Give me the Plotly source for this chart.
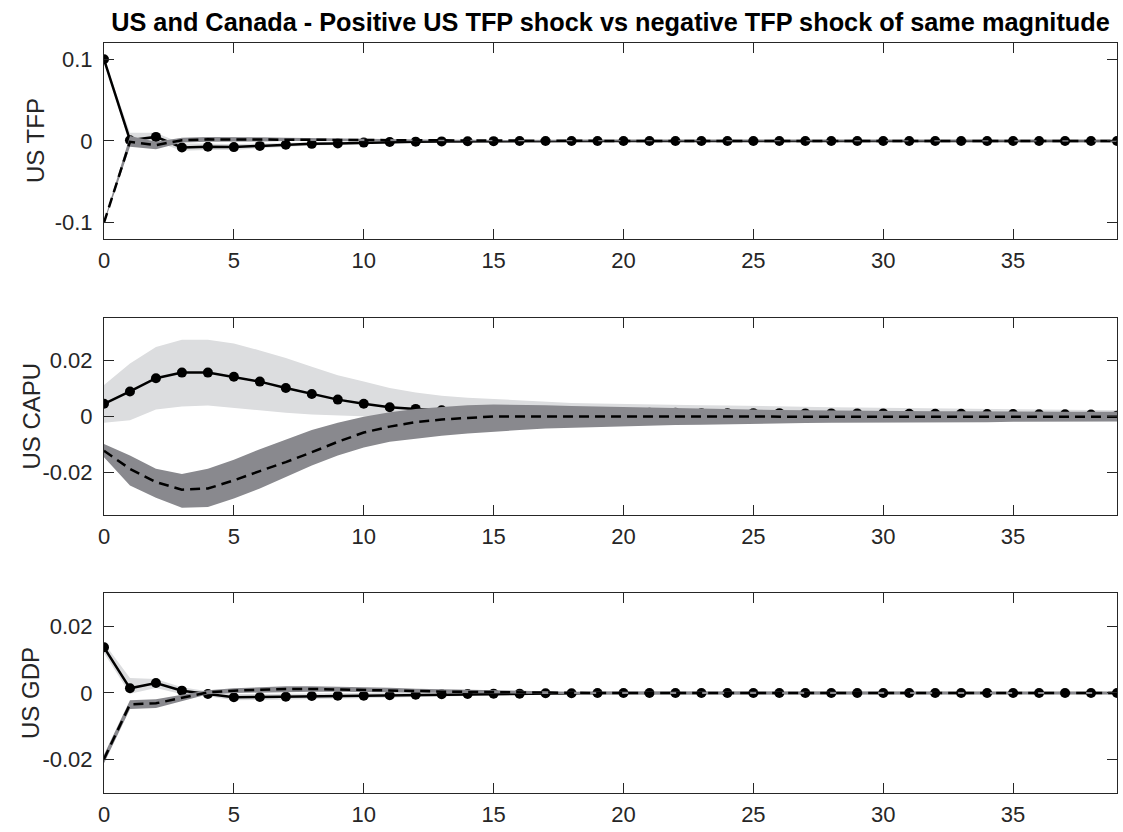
import plotly.graph_objects as go
from plotly.subplots import make_subplots

T = list(range(40))

# ---- US TFP ----
tfp_pos = [0.100, 0.001, 0.005, -0.008, -0.007, -0.0075, -0.006, -0.0045, -0.0035, -0.003,
           -0.002, -0.0012, -0.0008, -0.0005, -0.0003, -0.0002, -0.0001, 0.0, 0.0, 0.0,
           0.0, 0.0, 0.0, 0.0, 0.0, 0.0, 0.0, 0.0, 0.0, 0.0,
           0.0, 0.0, 0.0, 0.0, 0.0, 0.0, 0.0, 0.0, 0.0, 0.0]
tfp_pos_hi = [0.1015, 0.010, 0.010, -0.003, -0.003, -0.004, -0.003, -0.002, -0.0015, -0.001,
              -0.0005, 0.0002, 0.0005, 0.0006, 0.0007, 0.0007, 0.0007, 0.0008, 0.0008, 0.0008,
              0.0008, 0.0008, 0.0008, 0.0008, 0.0008, 0.0008, 0.0008, 0.0008, 0.0008, 0.0008,
              0.0008, 0.0008, 0.0008, 0.0008, 0.0008, 0.0008, 0.0008, 0.0008, 0.0008, 0.0008]
tfp_pos_lo = [0.0985, -0.005, -0.001, -0.012, -0.011, -0.011, -0.009, -0.007, -0.0055, -0.005,
              -0.0035, -0.0026, -0.002, -0.0016, -0.0013, -0.0011, -0.0009, -0.0008, -0.0008, -0.0008,
              -0.0008, -0.0008, -0.0008, -0.0008, -0.0008, -0.0008, -0.0008, -0.0008, -0.0008, -0.0008,
              -0.0008, -0.0008, -0.0008, -0.0008, -0.0008, -0.0008, -0.0008, -0.0008, -0.0008, -0.0008]
tfp_neg = [-0.100, -0.001, -0.005, 0.001, 0.002, 0.002, 0.002, 0.002, 0.0018, 0.0015,
           0.0012, 0.001, 0.0008, 0.0006, 0.0005, 0.0004, 0.0003, 0.0002, 0.0001, 0.0,
           0.0, 0.0, 0.0, 0.0, 0.0, 0.0, 0.0, 0.0, 0.0, 0.0,
           0.0, 0.0, 0.0, 0.0, 0.0, 0.0, 0.0, 0.0, 0.0, 0.0]
tfp_neg_hi = [-0.0985, 0.006, -0.001, 0.004, 0.005, 0.005, 0.0045, 0.004, 0.0035, 0.003,
              0.0026, 0.0022, 0.0019, 0.0016, 0.0014, 0.0012, 0.0011, 0.001, 0.0009, 0.0008,
              0.0008, 0.0008, 0.0008, 0.0008, 0.0008, 0.0008, 0.0008, 0.0008, 0.0008, 0.0008,
              0.0008, 0.0008, 0.0008, 0.0008, 0.0008, 0.0008, 0.0008, 0.0008, 0.0008, 0.0008]
tfp_neg_lo = [-0.1015, -0.007, -0.010, -0.002, -0.001, -0.001, -0.0005, 0.0, 0.0, 0.0,
              -0.0002, -0.0002, -0.0003, -0.0004, -0.0004, -0.0005, -0.0005, -0.0006, -0.0007, -0.0008,
              -0.0008, -0.0008, -0.0008, -0.0008, -0.0008, -0.0008, -0.0008, -0.0008, -0.0008, -0.0008,
              -0.0008, -0.0008, -0.0008, -0.0008, -0.0008, -0.0008, -0.0008, -0.0008, -0.0008, -0.0008]

# ---- US CAPU ----
capu_pos = [0.0045, 0.0089, 0.0136, 0.0156, 0.0156, 0.0141, 0.0124, 0.0101, 0.0080, 0.0060,
            0.0045, 0.0033, 0.0027, 0.0022, 0.0019, 0.0017, 0.0016, 0.0015, 0.0014, 0.0014,
            0.0013, 0.0013, 0.0013, 0.0012, 0.0012, 0.0012, 0.0012, 0.0011, 0.0011, 0.0011,
            0.0011, 0.0010, 0.0010, 0.0010, 0.0009, 0.0009, 0.0008, 0.0008, 0.0007, 0.0003]
capu_pos_hi = [0.0112, 0.0188, 0.0247, 0.0273, 0.0273, 0.0259, 0.0235, 0.0208, 0.0177, 0.0147,
               0.0124, 0.0101, 0.0085, 0.0074, 0.0067, 0.0062, 0.0057, 0.0052, 0.0048, 0.0046,
               0.0044, 0.0042, 0.0041, 0.0040, 0.0039, 0.0037, 0.0036, 0.0034, 0.0033, 0.0032,
               0.0031, 0.0030, 0.0029, 0.0028, 0.0027, 0.0026, 0.0025, 0.0024, 0.0023, 0.0022]
capu_pos_lo = [-0.0022, -0.0013, 0.0025, 0.0036, 0.0039, 0.0030, 0.0021, 0.0013, 0.0007, 0.0003,
               0.0000, -0.0003, -0.0005, -0.0006, -0.0007, -0.0008, -0.0008, -0.0008, -0.0008, -0.0008,
               -0.0008, -0.0008, -0.0008, -0.0008, -0.0008, -0.0008, -0.0008, -0.0008, -0.0008, -0.0008,
               -0.0008, -0.0008, -0.0008, -0.0008, -0.0008, -0.0008, -0.0008, -0.0008, -0.0008, -0.0008]
capu_neg = [-0.0122, -0.0186, -0.0233, -0.0260, -0.0256, -0.0227, -0.0194, -0.0162, -0.0127, -0.0090,
            -0.0057, -0.0036, -0.0020, -0.0011, -0.0005, 0.0000, 0.0000, 0.0000, 0.0000, 0.0000,
            -0.0001, -0.0001, -0.0001, -0.0001, -0.0001, -0.0001, -0.0002, -0.0002, -0.0002, -0.0002,
            -0.0002, -0.0002, -0.0002, -0.0002, -0.0002, -0.0002, -0.0002, -0.0002, -0.0001, -0.0001]
capu_neg_hi = [-0.0098, -0.0139, -0.0186, -0.0204, -0.0186, -0.0154, -0.0116, -0.0081, -0.0048, -0.0022,
               -0.0001, 0.0015, 0.0027, 0.0034, 0.0040, 0.0043, 0.0042, 0.0040, 0.0037, 0.0035,
               0.0033, 0.0031, 0.0029, 0.0027, 0.0026, 0.0025, 0.0023, 0.0022, 0.0021, 0.0021,
               0.0020, 0.0020, 0.0019, 0.0019, 0.0018, 0.0018, 0.0018, 0.0017, 0.0017, 0.0017]
capu_neg_lo = [-0.0145, -0.0245, -0.0289, -0.0324, -0.0322, -0.0291, -0.0256, -0.0215, -0.0174, -0.0139,
               -0.0110, -0.0090, -0.0078, -0.0068, -0.0060, -0.0053, -0.0048, -0.0043, -0.0040, -0.0037,
               -0.0034, -0.0032, -0.0030, -0.0029, -0.0027, -0.0026, -0.0024, -0.0023, -0.0022, -0.0022,
               -0.0021, -0.0021, -0.0020, -0.0020, -0.0020, -0.0019, -0.0019, -0.0019, -0.0018, -0.0018]

# ---- US GDP ----
gdp_pos = [0.0137, 0.0014, 0.0030, 0.0007, -0.0003, -0.0013, -0.0012, -0.0011, -0.0009, -0.0008,
           -0.0008, -0.0007, -0.0005, -0.0004, -0.0003, -0.0002, -0.0002, -0.0001, -0.0001, 0.0,
           0.0, 0.0, 0.0, 0.0, 0.0, 0.0, 0.0, 0.0, 0.0, 0.0,
           0.0, 0.0, 0.0, 0.0, 0.0, 0.0, 0.0, 0.0, 0.0, 0.0]
gdp_pos_hi = [0.0150, 0.0045, 0.0042, 0.0017, 0.0005, -0.0003, -0.0003, -0.0002, -0.0001, 0.0,
              0.0, 0.0001, 0.0002, 0.0002, 0.0003, 0.0003, 0.0003, 0.0003, 0.0003, 0.0003,
              0.0003, 0.0003, 0.0003, 0.0003, 0.0003, 0.0003, 0.0003, 0.0003, 0.0003, 0.0003,
              0.0003, 0.0003, 0.0003, 0.0003, 0.0003, 0.0003, 0.0003, 0.0003, 0.0003, 0.0003]
gdp_pos_lo = [0.0120, -0.0002, 0.0015, -0.0004, -0.0010, -0.0022, -0.0021, -0.0020, -0.0018, -0.0016,
              -0.0015, -0.0014, -0.0012, -0.0010, -0.0008, -0.0007, -0.0006, -0.0005, -0.0005, -0.0004,
              -0.0004, -0.0004, -0.0003, -0.0003, -0.0003, -0.0003, -0.0003, -0.0003, -0.0003, -0.0003,
              -0.0003, -0.0003, -0.0003, -0.0003, -0.0003, -0.0003, -0.0003, -0.0003, -0.0003, -0.0003]
gdp_neg = [-0.0198, -0.0034, -0.0031, -0.0014, 0.0002, 0.0007, 0.0010, 0.0012, 0.0012, 0.0011,
           0.0010, 0.0008, 0.0006, 0.0004, 0.0003, 0.0002, 0.0001, 0.0001, 0.0, 0.0,
           0.0, 0.0, 0.0, 0.0, 0.0, 0.0, 0.0, 0.0, 0.0, 0.0,
           0.0, 0.0, 0.0, 0.0, 0.0, 0.0, 0.0, 0.0, 0.0, 0.0]
gdp_neg_hi = [-0.0185, -0.0022, -0.0019, -0.0006, 0.0008, 0.0014, 0.0018, 0.0020, 0.0020, 0.0019,
              0.0018, 0.0016, 0.0013, 0.0011, 0.0009, 0.0007, 0.0006, 0.0005, 0.0004, 0.0004,
              0.0003, 0.0003, 0.0003, 0.0003, 0.0003, 0.0003, 0.0003, 0.0003, 0.0003, 0.0003,
              0.0003, 0.0003, 0.0003, 0.0003, 0.0003, 0.0003, 0.0003, 0.0003, 0.0003, 0.0003]
gdp_neg_lo = [-0.0211, -0.0048, -0.0045, -0.0024, -0.0004, 0.0000, 0.0002, 0.0004, 0.0004, 0.0004,
              0.0003, 0.0002, 0.0000, -0.0001, -0.0002, -0.0002, -0.0003, -0.0003, -0.0003, -0.0003,
              -0.0003, -0.0003, -0.0003, -0.0003, -0.0003, -0.0003, -0.0003, -0.0003, -0.0003, -0.0003,
              -0.0003, -0.0003, -0.0003, -0.0003, -0.0003, -0.0003, -0.0003, -0.0003, -0.0003, -0.0003]

panel_names = ["US TFP", "US CAPU", "US GDP"]
panels = [
    (tfp_pos, tfp_pos_lo, tfp_pos_hi, tfp_neg, tfp_neg_lo, tfp_neg_hi,
     [-0.12, 0.12], [-0.1, 0, 0.1], ["-0.1", "0", "0.1"]),
    (capu_pos, capu_pos_lo, capu_pos_hi, capu_neg, capu_neg_lo, capu_neg_hi,
     [-0.035, 0.035], [-0.02, 0, 0.02], ["-0.02", "0", "0.02"]),
    (gdp_pos, gdp_pos_lo, gdp_pos_hi, gdp_neg, gdp_neg_lo, gdp_neg_hi,
     [-0.03, 0.03], [-0.02, 0, 0.02], ["-0.02", "0", "0.02"]),
]
x_ticks = [0, 5, 10, 15, 20, 25, 30, 35]
title_text = "US and Canada - Positive US TFP shock vs negative TFP shock of same magnitude"

LIGHT = "rgb(220,221,223)"
DARK = "rgb(137,137,142)"
AX = "#262626"
FONT = "Liberation Sans, Arial, sans-serif"

fig = make_subplots(rows=3, cols=1, vertical_spacing=0.1)

for i, (p, plo, phi, n, nlo, nhi, yr, yt, ytl) in enumerate(panels, start=1):
    fig.add_trace(go.Scatter(x=T, y=plo, mode="lines", line=dict(width=0, color=LIGHT),
                             showlegend=False, hoverinfo="skip"), row=i, col=1)
    fig.add_trace(go.Scatter(x=T, y=phi, mode="lines", line=dict(width=0, color=LIGHT),
                             fill="tonexty", fillcolor=LIGHT, showlegend=False,
                             hoverinfo="skip"), row=i, col=1)
    fig.add_trace(go.Scatter(x=T, y=p, mode="lines+markers",
                             line=dict(color="black", width=2.5),
                             marker=dict(color="black", size=10),
                             showlegend=False), row=i, col=1)
    fig.add_trace(go.Scatter(x=T, y=nlo, mode="lines", line=dict(width=0, color=DARK),
                             showlegend=False, hoverinfo="skip"), row=i, col=1)
    fig.add_trace(go.Scatter(x=T, y=nhi, mode="lines", line=dict(width=0, color=DARK),
                             fill="tonexty", fillcolor=DARK, showlegend=False,
                             hoverinfo="skip"), row=i, col=1)
    fig.add_trace(go.Scatter(x=T, y=n, mode="lines",
                             line=dict(color="black", width=2.5, dash="10px,6px"),
                             showlegend=False), row=i, col=1)
    fig.update_yaxes(range=yr, tickvals=yt, ticktext=ytl, row=i, col=1)
    fig.update_xaxes(range=[0, 39], tickvals=x_ticks, row=i, col=1)

domains = [[0.7387, 1.0], [0.3707, 0.6333], [0.0, 0.2667]]
label_x = [36, 31, 31]
for i, d in enumerate(domains, start=1):
    fig.update_yaxes(domain=d, row=i, col=1)
    fig.add_annotation(text=panel_names[i - 1], xref="paper", yref="paper",
                       x=(label_x[i - 1] - 104) / 1013, y=(d[0] + d[1]) / 2,
                       xanchor="center", yanchor="middle", textangle=-90,
                       showarrow=False, font=dict(size=24, color=AX, family=FONT))

common = dict(showline=True, mirror="ticks", linecolor=AX, linewidth=1,
              ticks="inside", ticklen=10, tickcolor=AX, tickwidth=1,
              showgrid=False, zeroline=False, automargin=False,
              tickfont=dict(size=22, color=AX, family=FONT))
fig.update_xaxes(**common, ticklabelstandoff=2)
fig.update_yaxes(**common, ticklabelstandoff=6)

fig.update_layout(
    width=1123, height=832,
    margin=dict(l=104, r=6, t=43, b=39),
    paper_bgcolor="white", plot_bgcolor="white",
    title=dict(text="<b>" + title_text + "</b>",
               x=0.5, xref="paper", xanchor="center",
               y=1 - 22 / 832, yref="container", yanchor="middle",
               font=dict(size=25.3, color="black", family=FONT)),
    font=dict(family=FONT),
)

fig.write_html("out.html", config={"displayModeBar": False},
               post_script="document.body.style.margin='0';document.body.style.padding='0';")
